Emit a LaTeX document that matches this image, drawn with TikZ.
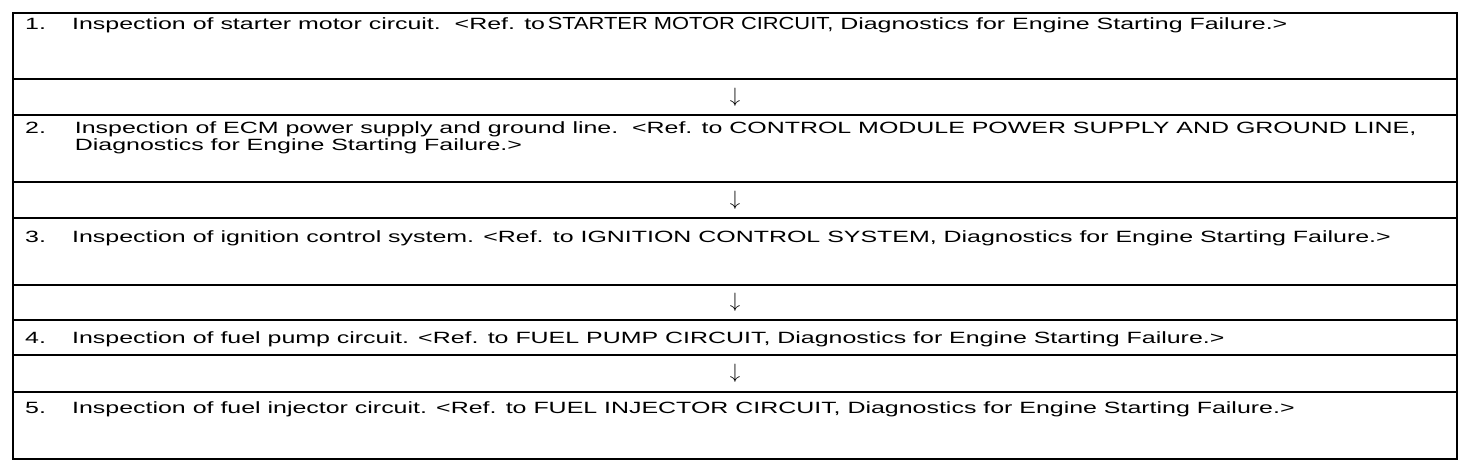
\documentclass[tikz,border=0pt]{standalone}
\usepackage{fontspec}
\setmainfont{Liberation Sans}[FakeStretch=1.53]
\newfontfamily\capsfont{Liberation Sans}[FakeStretch=1.25]
\usetikzlibrary{positioning}
\newcommand{\stepnum}[1]{\makebox[47pt][l]{#1}}
\tikzset{
  row/.style={draw, line width=1.5pt, minimum width=1444pt, anchor=north west,
    inner sep=0pt, outer sep=0pt},
  gap/.style={row, font=\fontsize{22}{22}\selectfont},
  txt/.style={anchor=base west, inner sep=0pt, align=left,
    font=\fontsize{16.3}{17}\selectfont}
}
\begin{document}
\begin{tikzpicture}[x=1pt,y=-1pt]
  \useasboundingbox (0,0) rectangle (1472,476);
  % rows of the table, top to bottom
  \node[row, minimum height=66pt] (s1) at (13,13) {};
  \node[gap, minimum height=36pt, below=0pt of s1] (g1) {$\downarrow$};
  \node[row, minimum height=67pt, below=0pt of g1] (s2) {};
  \node[gap, minimum height=36pt, below=0pt of s2] (g2) {$\downarrow$};
  \node[row, minimum height=67pt, below=0pt of g2] (s3) {};
  \node[gap, minimum height=35pt, below=0pt of s3] (g3) {$\downarrow$};
  \node[row, minimum height=35pt, below=0pt of g3] (s4) {};
  \node[gap, minimum height=37pt, below=0pt of s4] (g4) {$\downarrow$};
  \node[row, minimum height=67pt, below=0pt of g4] (s5) {};
  \draw[line width=2.4pt] (s1.north west) rectangle (s5.south east);
  % texts
  \node[txt] (t1) at ([xshift=12pt,yshift=-17pt]s1.north west)
    {\stepnum{1.}Inspection of starter motor circuit.\ \ <Ref. to\,{\capsfont\fontsize{17.5}{17}\selectfont STARTER MOTOR CIRCUIT,} Diagnostics for Engine Starting Failure.>};
  % last line of t2 sits on the base anchor
  \node[txt] (t2) at ([xshift=12pt,yshift=-35pt]s2.north west)
    {\stepnum{2.}\,Inspection of ECM power supply and ground line.\ \ <Ref. to CONTROL MODULE POWER SUPPLY AND GROUND LINE,\\
     \stepnum{}\,Diagnostics for Engine Starting Failure.>};
  \node[txt] (t3) at ([xshift=12pt,yshift=-24pt]s3.north west)
    {\stepnum{3.}Inspection of ignition control system. <Ref. to IGNITION CONTROL SYSTEM, Diagnostics for Engine Starting Failure.>};
  \node[txt] (t4) at ([xshift=12pt,yshift=-23pt]s4.north west)
    {\stepnum{4.}Inspection of fuel pump circuit. <Ref. to FUEL PUMP CIRCUIT, Diagnostics for Engine Starting Failure.>};
  \node[txt] (t5) at ([xshift=12pt,yshift=-21pt]s5.north west)
    {\stepnum{5.}Inspection of fuel injector circuit. <Ref. to FUEL INJECTOR CIRCUIT, Diagnostics for Engine Starting Failure.>};
\end{tikzpicture}
\end{document}
